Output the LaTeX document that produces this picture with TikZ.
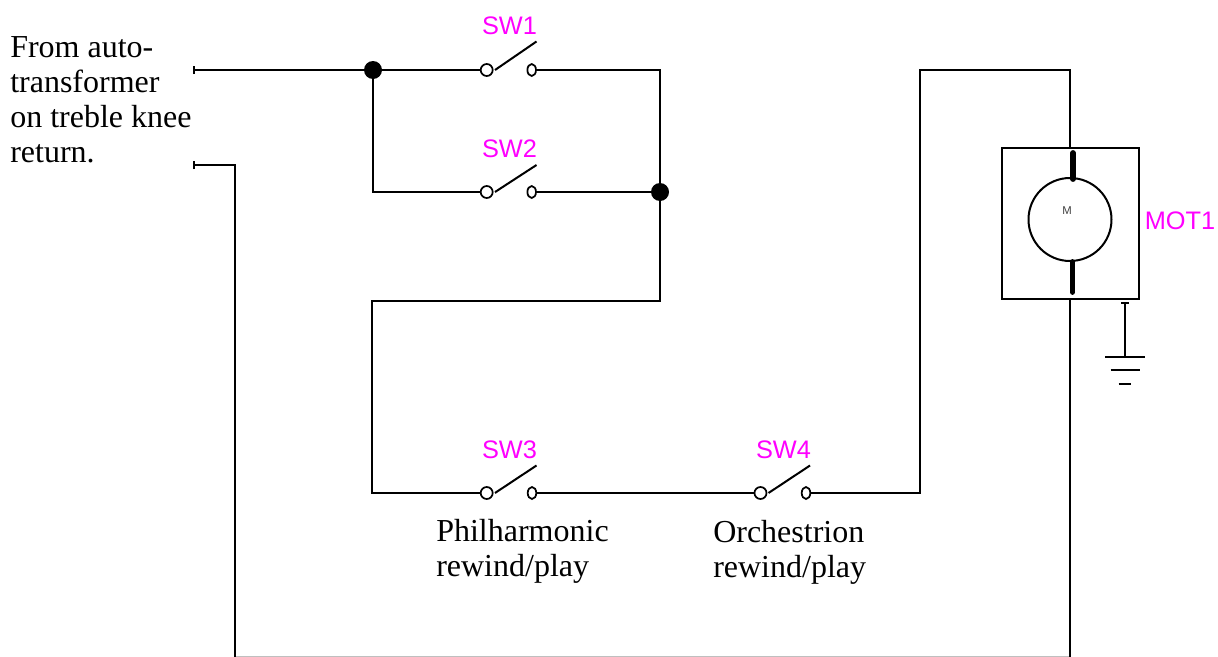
\documentclass[tikz,border=0pt]{standalone}
\usepackage{fontspec}
\setmainfont{Liberation Serif}
\setsansfont{Liberation Sans}
\usepackage{xcolor}
\usetikzlibrary{shapes.geometric,arrows.meta}
\definecolor{tagpink}{RGB}{255,0,255}
\pgfdeclarelayer{bg}
\pgfsetlayers{bg,main}
\tikzset{
    wire/.style={line width=1.5pt, line cap=butt, line join=miter},
    edgewire/.style={line width=0.75pt, draw=black!25},
    lever/.style={line width=1.5pt},
    brush/.style={line width=4.4pt, line cap=round},
    termin/.style={circle, draw, fill=white, line width=1.3pt, inner sep=0pt, minimum size=12pt*0.75},
    termout/.style={ellipse, draw, fill=white, line width=1.3pt, inner sep=0pt, minimum width=8.6pt*0.75, minimum height=12pt*0.75},
    junction/.style={circle, fill=black, inner sep=0pt, minimum size=18pt*0.75},
    tag/.style={text=tagpink, font=\sffamily\fontsize{19}{22}\selectfont, inner sep=0pt},
    note/.style={align=left, anchor=north west, inner sep=0pt, font=\fontsize{24}{26.25}\selectfont}
}
\begin{document}
\begin{tikzpicture}[x=0.75pt, y=-0.75pt]
    \useasboundingbox (0,0) rectangle (1218,657);

    \node (sw1a) [termin] at (486.7, 70) {};
    \node (sw1b) [termout] at (531.7, 70) {};
    \node (sw2a) [termin] at (486.7, 192) {};
    \node (sw2b) [termout] at (531.7, 192) {};
    \node (sw3a) [termin] at (486.7, 493) {};
    \node (sw3b) [termout] at (532, 493) {};
    \node (sw4a) [termin] at (760.5, 493) {};
    \node (sw4b) [termout] at (806, 493) {};

    \node (j1) [junction] at (373, 70) {};
    \node (j2) [junction] at (660, 192) {};

    \node (mot) [circle, draw, line width=1.5pt, inner sep=0pt, minimum size=83*0.75pt] at (1070, 219.5) {};
    \node (box) [rectangle, draw, line width=1.5pt, inner sep=0pt, minimum width=137*0.75pt, minimum height=151*0.75pt] at (1070, 223.5) {};
    \node (m) [font=\sffamily\fontsize{8.5}{9}\selectfont, text=black!75, inner sep=0pt] at (1067, 211) {M};

    \node (sw1t) [tag] at (509.5, 25.5) {SW1};
    \node (sw2t) [tag] at (509.5, 149) {SW2};
    \node (sw3t) [tag] at (509.5, 449.5) {SW3};
    \node (sw4t) [tag] at (783.5, 449.5) {SW4};
    \node (mot1t) [tag, anchor=west] at (1144.5, 220.5) {MOT1};

    \node (src) [note] at (10, 36) {From auto-\\transformer\\on treble knee\\return.};
    \node (phil) [note] at (436, 519) {Philharmonic\\rewind/play};
    \node (orch) [note] at (713, 520) {Orchestrion\\rewind/play};

    \coordinate (in1) at (193, 70);
    \coordinate (in2) at (193, 165);
    \coordinate (c1) at (235, 165);
    \coordinate (c2) at (235, 657);
    \coordinate (c3) at (1070, 657);
    \coordinate (e2) at (235, 656.5);
    \coordinate (e3) at (1070, 656.5);
    \coordinate (c4) at (660, 70);
    \coordinate (c6) at (660, 301);
    \coordinate (c7) at (372, 301);
    \coordinate (c8) at (372, 493);
    \coordinate (c9) at (920, 493);
    \coordinate (c10) at (920, 70);
    \coordinate (c11) at (1070, 70);

    \coordinate (l1a) at (495, 70);
    \coordinate (l1b) at (536.5, 41.5);
    \coordinate (l2a) at (495, 192);
    \coordinate (l2b) at (536.5, 165);
    \coordinate (l3a) at (495, 493);
    \coordinate (l3b) at (536.5, 465.5);
    \coordinate (l4a) at (768.5, 493);
    \coordinate (l4b) at (810, 465.5);

    \coordinate (b1a) at (1073, 153);
    \coordinate (b1b) at (1073, 179);
    \coordinate (b2a) at (1072.5, 262);
    \coordinate (b2b) at (1072.5, 292);

    \coordinate (g0) at (1125, 301.5);
    \coordinate (g1) at (1125, 357);
    \coordinate (g1l) at (1105, 357);
    \coordinate (g1r) at (1145, 357);
    \coordinate (g2l) at (1110.5, 370);
    \coordinate (g2r) at (1139.5, 370);
    \coordinate (g3l) at (1118.5, 384);
    \coordinate (g3r) at (1131, 384);

    \begin{pgfonlayer}{bg}
        \draw [edgewire] (e2) -- (e3);
        \draw [wire, {Bar[width=6pt,length=0pt]}-] (in1) -- (j1);
        \draw [wire] (j1) -- (sw1a);
        \draw [wire] (sw1b) -- (c4) -- (j2);
        \draw [wire] (j1.center) |- (sw2a);
        \draw [wire] (sw2b) -- (j2);
        \draw [wire] (j2) -- (c6) -- (c7) -- (c8) -- (sw3a);
        \draw [wire] (sw3b) -- (sw4a);
        \draw [wire] (sw4b) -- (c9) -- (c10) -- (c11) -- (box.north -| c11);
        \draw [wire, {Bar[width=6pt,length=0pt]}-] (in2) -- (c1) -- (c2);
        \draw [wire] (c3) -- (box.south -| c3);
    \end{pgfonlayer}

    \draw [lever] (l1a) -- (l1b);
    \draw [lever] (l2a) -- (l2b);
    \draw [lever] (l3a) -- (l3b);
    \draw [lever] (l4a) -- (l4b);
    \draw [brush] (b1a) -- (b1b);
    \draw [brush] (b2a) -- (b2b);

    \draw [wire, {Bar[width=6pt,length=0pt]}-] (g0) -- (g1);
    \draw [wire] (g1l) -- (g1r);
    \draw [wire] (g2l) -- (g2r);
    \draw [wire] (g3l) -- (g3r);
\end{tikzpicture}
\end{document}
